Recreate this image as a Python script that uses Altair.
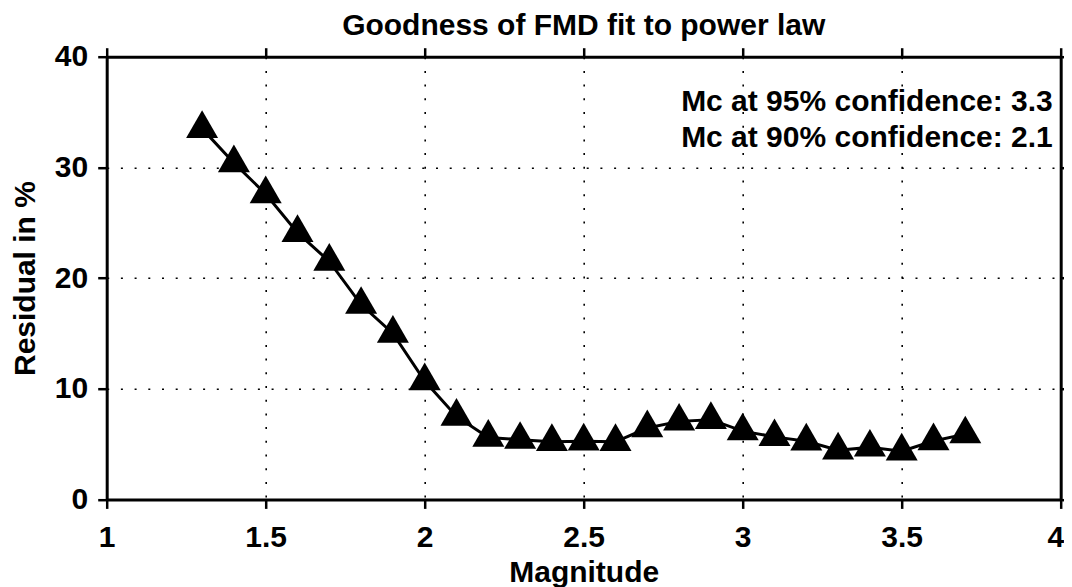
import altair as alt
import pandas as pd

magnitude = [1.3, 1.4, 1.5, 1.6, 1.7, 1.8, 1.9, 2.0, 2.1, 2.2, 2.3, 2.4, 2.5,
             2.6, 2.7, 2.8, 2.9, 3.0, 3.1, 3.2, 3.3, 3.4, 3.5, 3.6, 3.7]
residual = [33.5, 30.4, 27.6, 24.1, 21.5, 17.6, 15.0, 10.7, 7.5, 5.6, 5.4, 5.2, 5.25,
            5.2, 6.45, 7.05, 7.2, 6.17, 5.65, 5.25, 4.45, 4.7, 4.35, 5.27, 5.9]

ann_text = ["Mc at 95% confidence: 3.3", "Mc at 90% confidence: 2.1"]
ann_x = [3.975, 3.975]
ann_y = [35.1, 31.8]

x_ticks = [1, 1.5, 2, 2.5, 3, 3.5, 4]
y_ticks = [0, 10, 20, 30, 40]

df = pd.DataFrame({"Magnitude": magnitude, "Residual": residual})
ann = pd.DataFrame({"text": ann_text, "x": ann_x, "y": ann_y})

FONT = "Liberation Sans"
FS = 30

xscale = alt.Scale(domain=[1, 4], nice=False, zero=False)
yscale = alt.Scale(domain=[0, 40], nice=False, zero=False)

common_axis = dict(
    domainColor="black", domainWidth=3, tickColor="black", tickWidth=2.5,
    tickSize=9, labelFont=FONT, labelFontSize=FS, labelFontWeight="bold",
    labelColor="black", titleFont=FONT, titleFontSize=FS, titleFontWeight="bold",
    titleColor="black", gridColor="black", gridWidth=1.6, gridDash=[2, 11.7],
    gridOpacity=1,
)

x_bottom = alt.Axis(values=x_ticks, orient="bottom", grid=True, title="Magnitude",
                    labelPadding=14, labelFlush=False, labelOverlap=False,
                    labelAlign={"condition": {"test": "datum.value == 4", "value": "right"},
                                "value": "center"},
                    labelOffset={"condition": {"test": "datum.value == 4", "value": 3},
                                 "value": 0},
                    titleBaseline="alphabetic", titleY=82, titleAnchor="middle",
                    labelExpr="datum.value + ''", **common_axis)
y_left = alt.Axis(values=y_ticks, orient="left", grid=True, title="Residual in %",
                  labelPadding=10, labelFlush=False, labelOverlap=False,
                  titleBaseline="alphabetic", titleX=-72, titleY=221.35,
                  titleAngle=-90, titleAlign="center",
                  labelExpr="datum.value + ''", **common_axis)
x_top = alt.Axis(values=x_ticks, orient="top", grid=False, labels=False, title=None,
                 **common_axis)
y_right = alt.Axis(values=y_ticks, orient="right", grid=False, labels=False, title=None,
                   **common_axis)

line = alt.Chart(df).mark_line(color="black", strokeWidth=3).encode(
    x=alt.X("Magnitude:Q", scale=xscale, axis=x_bottom),
    y=alt.Y("Residual:Q", scale=yscale, axis=y_left),
)

points = alt.Chart(df).mark_point(
    shape="M0,-1.1547L1,0.5774L-1,0.5774Z", filled=True, color="black",
    opacity=1, size=1024, strokeWidth=0,
).encode(
    x=alt.X("Magnitude:Q", scale=xscale, axis=x_top),
    y=alt.Y("Residual:Q", scale=yscale, axis=y_right),
)

text = alt.Chart(ann).mark_text(
    font=FONT, fontSize=FS, fontWeight="bold", align="right",
    baseline="alphabetic", color="black",
).encode(
    x=alt.X("x:Q", scale=xscale, axis=None),
    y=alt.Y("y:Q", scale=yscale, axis=None),
    text="text:N",
)

chart = alt.layer(line, points, text).properties(
    width=954, height=442.7,
    title=alt.TitleParams("Goodness of FMD fit to power law", font=FONT, fontSize=FS,
                          fontWeight="bold", color="black", anchor="middle",
                          offset=1),
    autosize=alt.AutoSizeParams(type="none"),
    padding={"left": 98.7, "top": 48.7, "right": 3.2, "bottom": 87.6},
).configure_view(stroke=None).configure(background="white")

chart.save("out.html", embed_options={"renderer": "svg", "actions": False})
